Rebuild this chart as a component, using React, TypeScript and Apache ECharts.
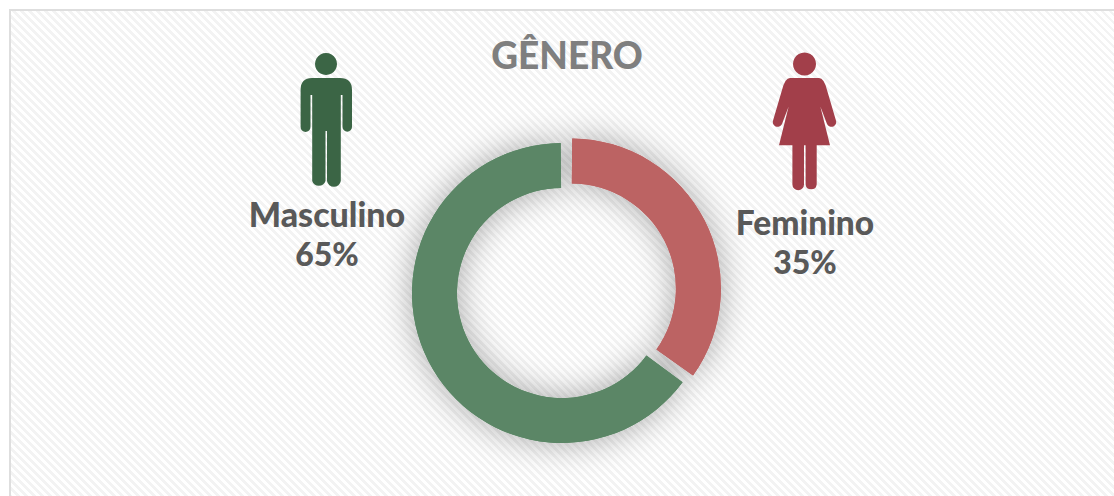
import React, { useEffect, useRef } from "react";
import * as echarts from "echarts";

const title = "GÊNERO";
const categories = ["Feminino", "Masculino"];
const values = [35, 65];
const sliceColors = ["#BC6363", "#5B8666"];
const labelFont = "Lato, 'Open Sans', sans-serif";

const manPath =
  "M326 53a11 11 0 1 0 0.01 0Z " +
  "M312 78H340Q352 78 352 90V127A4.75 4.75 0 0 1 342.5 127V95H340.8V181A7 7 0 0 1 327 181V131H325.5V181A7 7 0 0 1 312.2 181V95H310.5V127A4.75 4.75 0 0 1 300.6 127V90Q300.6 78 312 78Z";
const womanPath =
  "M804.5 52.5a11.5 11.5 0 1 0 0.01 0Z " +
  "M790 78H819Q824 78 827 90L835.8 120A4.6 4.6 0 0 1 827 124L816 95L817.5 95L830 145.3H816.7V184.4A5.6 5.6 0 0 1 805.6 184.4V145.3H804V184.4A5.8 5.8 0 0 1 792.4 184.4V145.3H779L791.5 95L793 95L782 124A4.6 4.6 0 0 1 773.2 120L782 90Q785 78 790 78Z";

echarts.graphic.registerShape("manIcon", echarts.graphic.extendPath(manPath as any, {}));
echarts.graphic.registerShape("womanIcon", echarts.graphic.extendPath(womanPath as any, {}));

function caption(text: string, x: number, y: number, size: number) {
  return {
    type: "text",
    x,
    y,
    style: {
      text,
      fill: "#595959",
      font: `900 ${size}px ${labelFont}`,
      align: "center",
      verticalAlign: "middle",
    },
  };
}

function ring(shadow: boolean) {
  return {
    type: "pie",
    center: [562, 293],
    radius: [105, 150],
    startAngle: 90,
    clockwise: true,
    padAngle: 1,
    selectedMode: "multiple",
    selectedOffset: 10,
    label: { show: false },
    labelLine: { show: false },
    emphasis: { disabled: true },
    itemStyle: shadow ? { shadowBlur: 34, shadowColor: "rgba(0,0,0,0.34)" } : {},
    data: categories.map((name, i) => ({
      name,
      value: values[i],
      selected: i === 0,
      itemStyle: { color: sliceColors[i] },
    })),
  };
}

export default function App() {
  const ref = useRef<HTMLDivElement>(null);
  useEffect(() => {
    document.body.style.margin = "0";
    const chart = echarts.init(ref.current!, null, { renderer: "svg" });
    chart.setOption({
      animation: false,
      backgroundColor: "transparent",
      title: {
        text: title,
        left: 562,
        top: 31,
        textAlign: "center",
        textStyle: { color: "#7F7F7F", fontFamily: labelFont, fontWeight: 900, fontSize: 37 },
      },
      series: [ring(true), ring(false)],
      graphic: [
        { type: "manIcon", silent: true, style: { fill: "#3B6545" } },
        { type: "womanIcon", silent: true, style: { fill: "#A23F4A" } },
        caption(categories[1], 327, 213.5, 34),
        caption(`${values[1]}%`, 327, 253, 32),
        caption(categories[0], 805, 221.5, 33.5),
        caption(`${values[0]}%`, 805, 261, 32),
      ],
    });
    return () => chart.dispose();
  }, []);
  return (
    <div style={{ position: "absolute", left: 0, top: 0, width: 1114, height: 496, overflow: "hidden", background: "#fff" }}>
      <div
        style={{
          position: "absolute",
          left: 9,
          top: 9,
          width: 1200,
          height: 600,
          boxSizing: "border-box",
          border: "2px solid #DEDEDE",
          background: "repeating-linear-gradient(45deg, #ffffff 0px, #ffffff 3px, #F3F3F3 3px, #F3F3F3 5.66px)",
        }}
      />
      <div ref={ref} style={{ position: "absolute", left: 0, top: 0, width: 1114, height: 496 }} />
    </div>
  );
}
